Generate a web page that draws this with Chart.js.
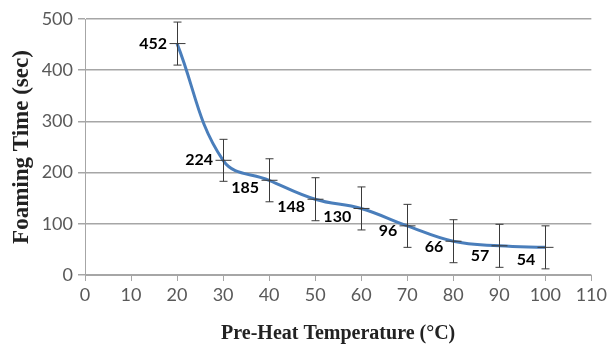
<!DOCTYPE html>
<html>
<head>
<meta charset="utf-8">
<script src="https://cdn.jsdelivr.net/npm/chart.js@4.4.1/dist/chart.umd.min.js"></script>
<style>
  html, body { margin: 0; padding: 0; background: #fff; }
  #wrap { width: 610px; height: 346px; }
</style>
</head>
<body>
<div id="wrap"><canvas id="chart" width="610" height="346"></canvas></div>
<script>
// values
const temps = [20, 30, 40, 50, 60, 70, 80, 90, 100];
const foamTime = [452, 224, 185, 148, 130, 96, 66, 57, 54];
const errBar = [42, 41, 42, 42, 42, 42, 42, 42, 42];
const xTicks = [0, 10, 20, 30, 40, 50, 60, 70, 80, 90, 100, 110];
const yTicks = [0, 100, 200, 300, 400, 500];

// label nudges (px below the point), just style
const labelDy = [0, 0, 8, 8, 8, 5, 6, 10, 12];

const errorBars = {
  id: 'errorBars',
  afterDatasetsDraw(chart) {
    const { ctx, scales: { x, y } } = chart;
    ctx.save();
    ctx.strokeStyle = '#3a3a3a';
    ctx.lineWidth = 1;
    temps.forEach((t, i) => {
      const px = Math.round(x.getPixelForValue(t)) + 0.5;
      const top = y.getPixelForValue(foamTime[i] + errBar[i]);
      const bot = y.getPixelForValue(foamTime[i] - errBar[i]);
      const py = y.getPixelForValue(foamTime[i]);
      ctx.beginPath();
      ctx.moveTo(px, top); ctx.lineTo(px, bot);
      ctx.moveTo(px - 4, top); ctx.lineTo(px + 4, top);
      ctx.moveTo(px - 4, bot); ctx.lineTo(px + 4, bot);
      ctx.moveTo(px - 8, py); ctx.lineTo(px + 8, py);
      ctx.stroke();
    });
    ctx.restore();
  }
};

const valueLabels = {
  id: 'valueLabels',
  afterDatasetsDraw(chart) {
    const { ctx, scales: { x, y } } = chart;
    ctx.save();
    ctx.font = 'bold 16px Lato';
    ctx.fillStyle = '#000';
    ctx.textAlign = 'right';
    ctx.textBaseline = 'middle';
    temps.forEach((t, i) => {
      const px = x.getPixelForValue(t);
      const py = y.getPixelForValue(foamTime[i]);
      ctx.fillText(String(foamTime[i]), px - 10, py + labelDy[i]);
    });
    ctx.restore();
  }
};

new Chart(document.getElementById('chart'), {
  type: 'line',
  data: {
    datasets: [{
      data: temps.map((t, i) => ({ x: t, y: foamTime[i] })),
      borderColor: '#4a7ebb',
      borderWidth: 3,
      pointRadius: 0,
      tension: 0.4,
      fill: false
    }]
  },
  options: {
    responsive: false,
    animation: false,
    layout: { padding: { top: 19, right: 13, left: 0, bottom: 0 } },
    plugins: { legend: { display: false }, tooltip: { enabled: false } },
    scales: {
      x: {
        type: 'linear',
        min: 0, max: 110,
        afterBuildTicks(axis) { axis.ticks = xTicks.map(v => ({ value: v })); },
        afterFit(axis) { axis.height = 71; },
        grid: { display: true, drawOnChartArea: false, drawTicks: true, tickLength: 6, color: '#a6a6a6' },
        border: { display: true, color: '#a6a6a6', width: 1 },
        ticks: { color: '#595959', font: { family: 'Lato', size: 18 }, padding: 3, maxRotation: 0 },
        title: {
          display: true,
          text: 'Pre-Heat Temperature (°C)',
          color: '#222',
          font: { family: 'Liberation Serif', size: 20, weight: 'bold' },
          padding: { top: 8, bottom: 0 }
        }
      },
      y: {
        min: 0, max: 500,
        afterBuildTicks(axis) { axis.ticks = yTicks.map(v => ({ value: v })); },
        afterFit(axis) { axis.width = 85; },
        grid: { color: '#a6a6a6', lineWidth: 1.5, drawTicks: true, tickLength: 7 },
        border: { display: true, color: '#a6a6a6', width: 1 },
        ticks: { color: '#595959', font: { family: 'Lato', size: 18 }, padding: 5 },
        title: {
          display: true,
          text: 'Foaming Time (sec)',
          color: '#222',
          font: { family: 'Liberation Serif', size: 23, weight: 'bold' },
          padding: { top: 8, bottom: 0 }
        }
      }
    }
  },
  plugins: [errorBars, valueLabels]
});
</script>
</body>
</html>
